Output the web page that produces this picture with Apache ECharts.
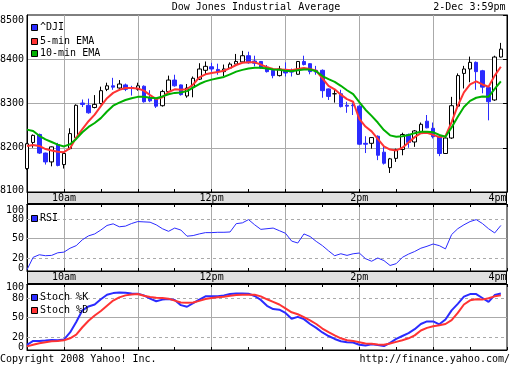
<!DOCTYPE html>
<html><head><meta charset="utf-8">
<script src="https://cdn.jsdelivr.net/npm/echarts@6/dist/echarts.min.js"></script>
<style>html,body{margin:0;padding:0;background:#fff}#c{width:512px;height:365px}</style>
</head><body><div id="c"></div>
<script>
// ---- data (5-minute bars, 9:30 .. 15:55) ----
const candleOpen = [8153,8212,8230,8188,8168,8207,8162,8198,8223,8301,
  8296,8291,8300,8332,8340,8335,8342,8336,8332,8339,
  8313,8310,8295,8327,8353,8342,8317,8337,8355,8375,
  8383,8377,8372,8380,8389,8394,8408,8396,8395,8382,
  8375,8363,8376,8374,8366,8395,8390,8375,8375,8333,
  8322,8322,8296,8296,8294,8210,8210,8226,8190,8155,
  8176,8196,8230,8213,8236,8260,8244,8226,8187,8222,
  8294,8368,8378,8393,8374,8336,8308,8405];
const candleClose = [8209,8228,8188,8168,8202,8160,8187,8232,8296,8298,
  8279,8298,8329,8340,8337,8344,8332,8334,8340,8304,
  8306,8294,8327,8353,8340,8320,8335,8357,8378,8384,
  8378,8372,8378,8389,8395,8408,8392,8391,8380,8372,
  8363,8378,8369,8371,8395,8388,8372,8371,8329,8316,
  8322,8293,8294,8295,8208,8208,8223,8183,8165,8175,
  8196,8230,8212,8238,8253,8245,8225,8187,8222,8295,
  8363,8378,8393,8372,8337,8304,8405,8423];
const candleLow = [8150,8200,8186,8162,8158,8158,8153,8196,8222,8292,
  8277,8289,8298,8328,8331,8330,8328,8318,8329,8302,
  8303,8290,8293,8325,8338,8318,8313,8314,8353,8365,
  8372,8365,8362,8378,8387,8392,8390,8384,8379,8370,
  8357,8361,8361,8361,8365,8386,8366,8365,8313,8308,
  8302,8291,8279,8274,8206,8188,8198,8172,8162,8143,
  8168,8183,8200,8202,8234,8244,8221,8181,8186,8220,
  8292,8334,8348,8331,8323,8262,8306,8404];
const candleHigh = [8211,8230,8232,8189,8203,8211,8188,8244,8298,8309,
  8311,8319,8338,8347,8358,8353,8345,8340,8347,8341,
  8330,8312,8331,8363,8365,8343,8344,8361,8391,8395,
  8392,8390,8388,8393,8412,8419,8417,8408,8396,8387,
  8376,8385,8393,8379,8396,8408,8391,8385,8377,8334,
  8331,8331,8304,8302,8296,8226,8224,8228,8203,8177,
  8198,8234,8232,8240,8257,8274,8257,8228,8225,8315,
  8368,8385,8406,8395,8376,8338,8408,8437];
const ema5 = [8204,8206,8204,8197,8194,8191,8190,8199,8223,8242,
  8260,8275,8294,8312,8324,8331,8335,8335,8334,8329,
  8319,8310,8314,8326,8332,8331,8332,8343,8359,8366,
  8369,8371,8374,8380,8387,8392,8393,8393,8388,8382,
  8378,8377,8376,8375,8378,8380,8378,8374,8357,8340,
  8332,8320,8310,8304,8265,8248,8237,8220,8203,8196,
  8194,8200,8212,8224,8233,8234,8229,8224,8226,8258,
  8295,8325,8343,8350,8343,8338,8363,8383];
const ema10 = [8241,8238,8227,8219,8213,8207,8203,8208,8220,8235,
  8247,8256,8267,8282,8295,8302,8308,8312,8315,8315,
  8313,8312,8316,8321,8324,8325,8328,8336,8344,8350,
  8354,8357,8360,8366,8372,8376,8379,8381,8381,8379,
  8377,8376,8374,8373,8375,8377,8377,8373,8362,8355,
  8349,8340,8330,8321,8303,8286,8272,8257,8240,8228,
  8225,8226,8229,8233,8236,8236,8235,8229,8225,8246,
  8270,8292,8306,8313,8316,8315,8333,8350];
const rsi = [2,21,25,23.5,24,28,29,35,39,48,
  54,57,63,70,72.5,68,69,73,76,75.5,
  75,71,65,61,66,63,53.5,54.5,57,59,
  59,59.5,59.5,60,72.8,74,79,71,64,65,
  66,62,58,46,43,57,53,45.5,39,31,
  23.5,26.5,24,26.5,27.6,19,15,20,16,8.5,
  11.3,21,26,30,35,38,41.5,39,34,56,
  65,71,76,79,73,65,58.5,70];
const stochK = [8,14,14,14.5,15.5,15,16,27,43,61,
  67,70,78,85,87.5,88.5,88,87,86.5,84,
  79,75,77.5,78.5,77,69,66.5,72,77.5,82.5,
  82.5,82.5,84,86,87,87,86.5,83,77,68,
  63,62,57,48,51,47.5,40,34,27,21.5,
  17,13.5,12,11.5,8,7,9,7.5,6,11,
  17,21.5,26,32,40,44,44,39.5,47,61,
  71,82,86,86,80,74,84.5,87];
const stochD = [5.6,8.2,10.5,12,13.3,14,15,18,23.6,35,
  45,53,60,68,76,81,84,85.5,86,83.5,
  81.5,80.5,80,79,76,73,72.5,73,75.5,78.5,
  80,81,82,83.5,84.5,85,85,85,82.5,78,
  74,70,64,58,55,50.5,45.5,40,33,27.5,
  22.5,18,15,14,12,10,9.7,8.5,8.2,10,
  12.5,15,18,22.5,30,34,36.4,38,40,46,
  57,70,76.4,78,77.5,79.5,82.5,84];
const hourLabels = {'10:00':'10am','12:00':'12pm','14:00':'2pm','16:00':'4pm'};
const oscLabels = [0,20,50,80,100];

// ---- categories 9:30 .. 16:00 ----
const times = [];
for (let m = 570; m <= 960; m += 5) times.push(Math.floor(m/60) + ':' + String(m%60).padStart(2,'0'));
const candles = candleOpen.map((o,i)=>[o, candleClose[i], candleLow[i], candleHigh[i]]);

const FONT = 'DejaVu Sans Mono';
const BLUE = '#2b2bff', RED = '#ff3333', GREEN = '#00b000', GRIDC = '#aaaaaa';
const txt = {fontFamily: FONT, fontSize: 10, color: '#000'};

function xAx(gridIndex, position, showLabels, showSplit) {
  return {
    type: 'category', gridIndex, position, data: times, boundaryGap: false,
    axisLine: {show: true, onZero: false, lineStyle: {color: '#000', width: 1}},
    axisTick: {show: true, inside: true, length: 3, interval: (i) => i % 6 === 0, lineStyle: {color: '#000', width: 1}},
    axisLabel: Object.assign({show: showLabels, interval: (i) => i % 24 === 6, margin: 1,
      formatter: (v) => v === '16:00' ? '{r|4pm}' : (hourLabels[v] || ''),
      rich: {r: Object.assign({padding: [0, 19, 0, 0]}, txt)}}, txt),
    splitLine: {show: showSplit, interval: (i) => i % 12 === 6 && i < 78, lineStyle: {color: GRIDC, width: 1}}
  };
}
function oscY(gridIndex, max, padTop, padBot) {
  return {
    type: 'value', gridIndex, min: 0, max, interval: 10, position: 'left',
    axisLine: {show: true, lineStyle: {color: '#000'}}, axisTick: {show: false},
    splitLine: {show: false},
    axisLabel: Object.assign({margin: 3,
      formatter: (v) => v === 100 ? '{t|100}' : v === 0 ? '{b|0}' : (oscLabels.indexOf(v) >= 0 ? String(v) : ''),
      rich: {t: Object.assign({padding: [padTop, 0, 0, 0]}, txt), b: Object.assign({padding: [0, 0, padBot, 0]}, txt)}}, txt)
  };
}
const gridBase = {left: 27, width: 480, show: true, borderColor: '#000', borderWidth: 1, containLabel: false, outerBoundsMode: 'none'};
const oscMarks = {
  silent: true, symbol: ['none', 'none'], animation: false, z: 1,
  label: {show: false}, emphasis: {disabled: true},
  lineStyle: {color: GRIDC, width: 1, type: [3, 3]},
  data: [{yAxis: 50, lineStyle: {type: 'solid'}}, {yAxis: 20}, {yAxis: 80}]
};

function legendItem(x, y, color, label) {
  return [
    {type: 'rect', shape: {x: x + 0.5, y: y - 2.5, width: 6, height: 6}, style: {fill: color, stroke: '#000', lineWidth: 1}, z: 10},
    {type: 'text', x: x + 9, y: y + 0.5, style: {text: label, fontFamily: FONT, fontSize: 10, fill: '#000', align: 'left', verticalAlign: 'middle'}, z: 10}
  ];
}

const chart = echarts.init(document.getElementById('c'), null, {renderer: 'canvas', width: 512, height: 365});
chart.setOption({
  animation: false,
  backgroundColor: '#fff',
  grid: [
    Object.assign({top: 15, height: 177}, gridBase),
    Object.assign({top: 204, height: 67}, gridBase),
    Object.assign({top: 284, height: 66}, gridBase)
  ],
  xAxis: [
    xAx(0, 'bottom', true, true),
    xAx(1, 'bottom', true, true),
    xAx(1, 'top', false, false),
    xAx(2, 'bottom', false, true),
    xAx(2, 'top', false, false)
  ],
  yAxis: [
    {type: 'value', gridIndex: 0, min: 8100, max: 8500, interval: 100, position: 'left',
     axisLine: {show: true, lineStyle: {color: '#000'}}, axisTick: {show: false},
     splitLine: {show: true, showMinLine: false, showMaxLine: false, lineStyle: {color: GRIDC, width: 1}},
     axisLabel: Object.assign({margin: 3,
       formatter: (v) => v === 8500 ? '{t|8500}' : v === 8100 ? '{b|8100}' : String(v),
       rich: {t: Object.assign({padding: [10, 0, 0, 0]}, txt), b: Object.assign({padding: [0, 0, 4, 0]}, txt)}}, txt)},
    {type: 'value', gridIndex: 0, min: 8100, max: 8500, interval: 100, position: 'right',
     axisLine: {show: true, lineStyle: {color: '#000'}},
     axisTick: {show: true, inside: true, length: 4, lineStyle: {color: '#000'}},
     axisLabel: {show: false}, splitLine: {show: false}},
    oscY(1, 103, 9, 5),
    oscY(2, 101.5, 5, 5)
  ],
  series: [
    {type: 'candlestick', name: '^DJI', xAxisIndex: 0, yAxisIndex: 0, data: candles, barWidth: 4, clip: false,
     itemStyle: {color: '#fff', color0: BLUE, borderColor: '#000', borderColor0: BLUE, borderColorDoji: '#000', borderWidth: 1},
     emphasis: {disabled: true}, z: 3},
    {type: 'line', name: '5-min EMA', xAxisIndex: 0, yAxisIndex: 0, data: ema5, symbol: 'none', smooth: false,
     lineStyle: {color: RED, width: 2}, emphasis: {disabled: true}, z: 4},
    {type: 'line', name: '10-min EMA', xAxisIndex: 0, yAxisIndex: 0, data: ema10, symbol: 'none', smooth: false,
     lineStyle: {color: GREEN, width: 2}, emphasis: {disabled: true}, z: 4},
    {type: 'line', name: 'RSI', xAxisIndex: 1, yAxisIndex: 2, data: rsi, symbol: 'none', smooth: false,
     lineStyle: {color: BLUE, width: 1}, emphasis: {disabled: true}, z: 4, markLine: oscMarks},
    {type: 'line', name: 'Stoch %K', xAxisIndex: 3, yAxisIndex: 3, data: stochK, symbol: 'none', smooth: false,
     lineStyle: {color: BLUE, width: 2}, emphasis: {disabled: true}, z: 4, markLine: oscMarks},
    {type: 'line', name: 'Stoch %D', xAxisIndex: 3, yAxisIndex: 3, data: stochD, symbol: 'none', smooth: false,
     lineStyle: {color: RED, width: 2}, emphasis: {disabled: true}, z: 4}
  ],
  graphic: {elements: [
    {type: 'rect', shape: {x: 27.5, y: 192.5, width: 479, height: 11}, style: {fill: '#e0e0e0', stroke: '#000', lineWidth: 1}, z: -1},
    {type: 'rect', shape: {x: 27.5, y: 271.5, width: 479, height: 12}, style: {fill: '#e0e0e0', stroke: '#000', lineWidth: 1}, z: -1},
    {type: 'text', x: 256, y: 7.5, style: {text: 'Dow Jones Industrial Average', fontFamily: FONT, fontSize: 10, fill: '#000', align: 'center', verticalAlign: 'middle'}},
    {type: 'text', x: 505.5, y: 7.5, style: {text: '2-Dec 3:59pm', fontFamily: FONT, fontSize: 10, fill: '#000', align: 'right', verticalAlign: 'middle'}},
    {type: 'text', x: 0, y: 359, style: {text: 'Copyright 2008 Yahoo! Inc.', fontFamily: FONT, fontSize: 10, fill: '#000', align: 'left', verticalAlign: 'middle'}},
    {type: 'text', x: 510, y: 359, style: {text: 'http://finance.yahoo.com/', fontFamily: FONT, fontSize: 10, fill: '#000', align: 'right', verticalAlign: 'middle'}},
    ...legendItem(31, 27, BLUE, '^DJI'),
    ...legendItem(31, 41, RED, '5-min EMA'),
    ...legendItem(31, 53, GREEN, '10-min EMA'),
    ...legendItem(31, 218, BLUE, 'RSI'),
    ...legendItem(31, 297, BLUE, 'Stoch %K'),
    ...legendItem(31, 310, RED, 'Stoch %D')
  ]}
});
</script>
</body></html>
